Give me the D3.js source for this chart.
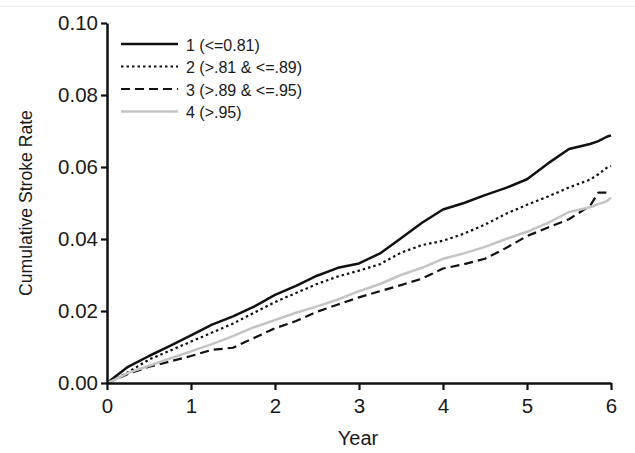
<!DOCTYPE html>
<html>
<head>
<meta charset="utf-8">
<script src="https://cdn.jsdelivr.net/npm/d3@7"></script>
<style>
  html, body { margin: 0; padding: 0; background: #fff; }
  svg { display: block; }
  text { font-family: "Liberation Sans", Arial, Helvetica, sans-serif; fill: #1a1a1a; }
</style>
</head>
<body>
<svg id="chart" width="635" height="453"></svg>
<script>
// ---- data ----
const years = [0, 0.1, 0.25, 0.5, 0.75, 1, 1.25, 1.5, 1.75, 2, 2.25, 2.5, 2.75, 3, 3.25, 3.5, 3.75, 4, 4.25, 4.5, 4.75, 5, 5.25, 5.5, 5.75, 5.85, 5.95, 6];
const group1 = [0, 0.0018, 0.0045, 0.0075, 0.0103, 0.0132, 0.0162, 0.0185, 0.0212, 0.0245, 0.0270, 0.0298, 0.0320, 0.0332, 0.0360, 0.0402, 0.0445, 0.0482, 0.0500, 0.0522, 0.0542, 0.0566, 0.0610, 0.0650, 0.0664, 0.0672, 0.0684, 0.0688];
const group2 = [0, 0.0010, 0.0030, 0.0065, 0.0090, 0.0115, 0.0140, 0.0165, 0.0195, 0.0225, 0.0250, 0.0275, 0.0296, 0.0312, 0.0330, 0.0362, 0.0383, 0.0395, 0.0415, 0.0440, 0.0470, 0.0495, 0.0518, 0.0543, 0.0565, 0.0580, 0.0598, 0.0603];
const group3 = [0, 0.0010, 0.0025, 0.0045, 0.0060, 0.0075, 0.0092, 0.0098, 0.0125, 0.0152, 0.0172, 0.0198, 0.0218, 0.0238, 0.0255, 0.0272, 0.0290, 0.0318, 0.0330, 0.0345, 0.0375, 0.0408, 0.0432, 0.0455, 0.0492, 0.0529, 0.0529, null];
const group4 = [0, 0.0010, 0.0028, 0.0048, 0.0068, 0.0088, 0.0108, 0.0130, 0.0155, 0.0175, 0.0195, 0.0213, 0.0232, 0.0255, 0.0275, 0.0300, 0.0320, 0.0345, 0.0360, 0.0378, 0.0400, 0.0420, 0.0445, 0.0475, 0.0488, 0.0497, 0.0505, 0.0515];
const seriesNames = ["1 (<=0.81)", "2 (>.81 & <=.89)", "3 (>.89 & <=.95)", "4 (>.95)"];
const xTicks = [0, 1, 2, 3, 4, 5, 6];
const yTicks = [0, 0.02, 0.04, 0.06, 0.08, 0.10];

// ---- styles ----
const styles = [
  { color: "#111", width: 2.5, dash: null },
  { color: "#111", width: 2.2, dash: "2.5,3" },
  { color: "#111", width: 2.2, dash: "9,5" },
  { color: "#c4c4c4", width: 2.5, dash: null }
];

const svg = d3.select("#chart");
const x = d3.scaleLinear().domain([0, 6]).range([107, 611]);
const y = d3.scaleLinear().domain([0, 0.10]).range([383, 23]);

// faint top rule
svg.append("line").attr("x1", 0).attr("x2", 635).attr("y1", 6.5).attr("y2", 6.5)
  .attr("stroke", "#eef0f2").attr("stroke-width", 1);

// series
const allSeries = [group1, group2, group3, group4];
const line = d3.line()
  .defined(d => d[1] !== null)
  .x(d => x(d[0]))
  .y(d => y(d[1]))
  .curve(d3.curveLinear);

allSeries.forEach((vals, i) => {
  const pts = years.map((t, j) => [t, vals[j]]);
  svg.append("path")
    .attr("d", line(pts))
    .attr("fill", "none")
    .attr("stroke", styles[i].color)
    .attr("stroke-width", styles[i].width)
    .attr("stroke-dasharray", styles[i].dash)
    .attr("stroke-linejoin", "round");
});

// axes
const xAxis = d3.axisBottom(x).tickValues(xTicks).tickFormat(d3.format("d")).tickSize(7).tickSizeOuter(0).tickPadding(8);
const yAxis = d3.axisLeft(y).tickValues(yTicks).tickFormat(d3.format(".2f")).tickSize(6).tickSizeOuter(0).tickPadding(3);

const gx = svg.append("g").attr("transform", "translate(0,383)").call(xAxis);
const gy = svg.append("g").attr("transform", "translate(107,0)").call(yAxis);
[gx, gy].forEach(g => {
  g.selectAll("path.domain").attr("stroke", "#111").attr("stroke-width", 2.5);
  g.selectAll(".tick line").attr("stroke", "#111").attr("stroke-width", 2.2);
  g.selectAll(".tick text").attr("font-size", 20.5).attr("fill", "#1a1a1a")
    .style("font-family", "'Liberation Sans', Arial, sans-serif");
});

// axis titles
svg.append("text")
  .attr("x", x(3) - 1).attr("y", 445)
  .attr("text-anchor", "middle").attr("font-size", 20)
  .text("Year");
svg.append("text")
  .attr("transform", "translate(32,203) rotate(-90)")
  .attr("text-anchor", "middle").attr("font-size", 17.6)
  .text("Cumulative Stroke Rate");

// legend
const legY = [44, 66.5, 89, 111.5];
seriesNames.forEach((name, i) => {
  svg.append("line")
    .attr("x1", 121).attr("x2", 178)
    .attr("y1", legY[i]).attr("y2", legY[i])
    .attr("stroke", styles[i].color)
    .attr("stroke-width", styles[i].width)
    .attr("stroke-dasharray", styles[i].dash);
  svg.append("text")
    .attr("x", 186).attr("y", legY[i] + 6.5)
    .attr("font-size", 16)
    .text(name);
});
</script>
</body>
</html>
